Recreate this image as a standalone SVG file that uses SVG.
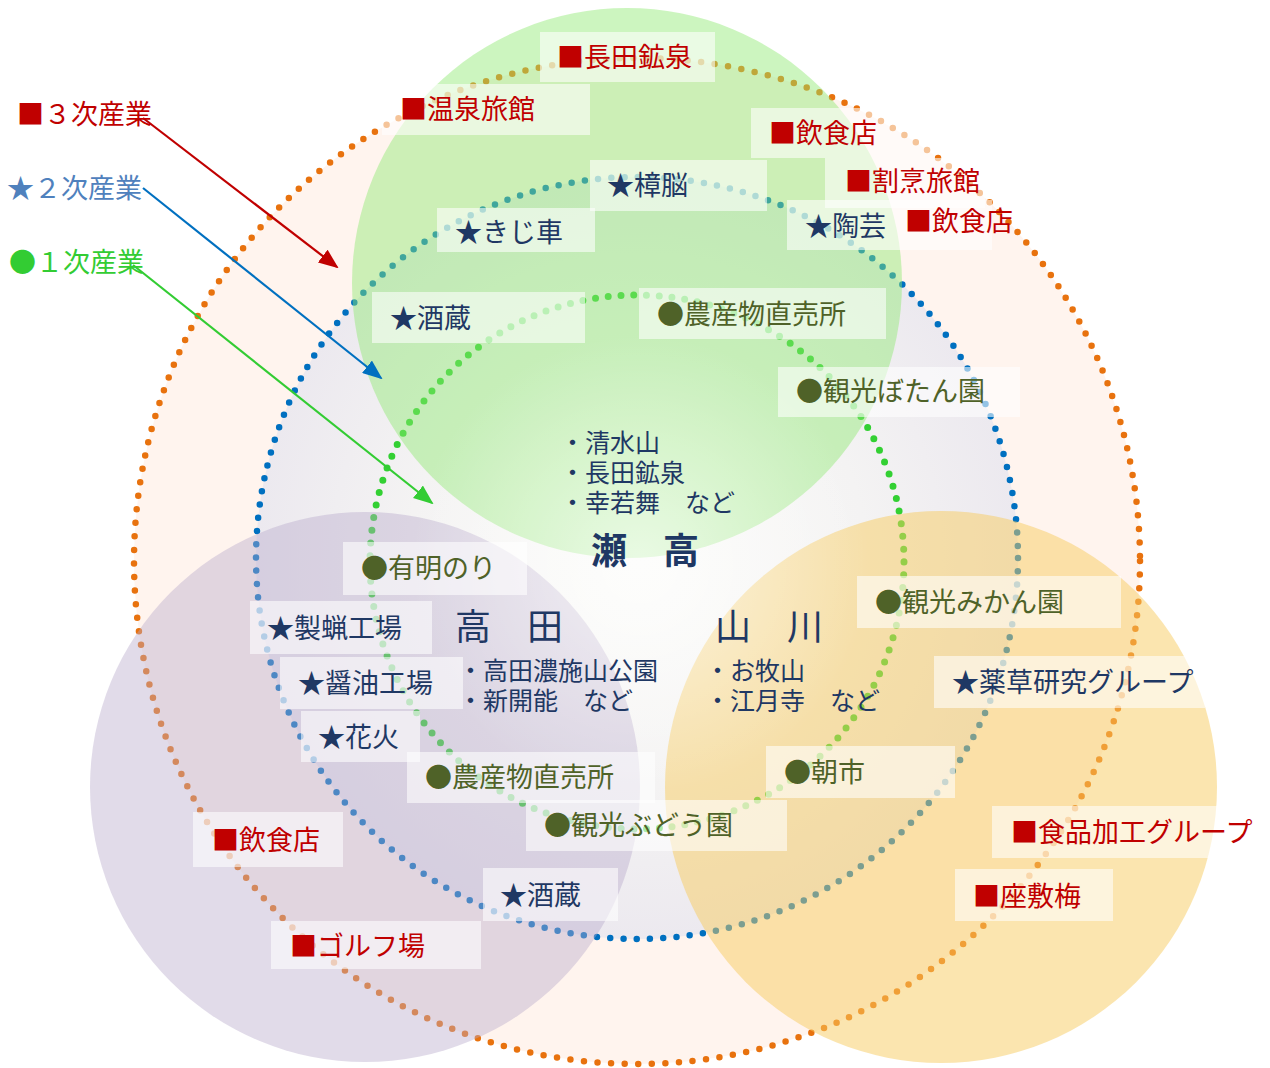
<svg xmlns="http://www.w3.org/2000/svg" width="1270" height="1068" viewBox="0 0 1270 1068">
<defs>
<style>
text{font-family:"Noto Sans CJK JP","Noto Sans",sans-serif;}
.lb{font-size:27px;}
.r{fill:#c00000;}
.n{fill:#1f3864;}
.o{fill:#4f6228;}
.box{fill:#ffffff;fill-opacity:0.58;}
.dot{fill:none;stroke-linecap:round;}
.area{font-size:36px;fill:#1f3864;}
.li{font-size:25px;fill:#1f3864;}
</style>
<radialGradient id="gBlue" cx="0.5" cy="0.5" r="0.5">
<stop offset="0" stop-color="#fbfbf8"/>
<stop offset="0.6" stop-color="#f4f3f3"/>
<stop offset="1" stop-color="#ece9ef"/>
</radialGradient>
<radialGradient id="gGlow" cx="0.5" cy="0.5" r="0.5">
<stop offset="0" stop-color="#ffffff" stop-opacity="0.6"/>
<stop offset="1" stop-color="#ffffff" stop-opacity="0"/>
</radialGradient>
<marker id="aR" markerUnits="userSpaceOnUse" markerWidth="20" markerHeight="16" refX="18" refY="8" orient="auto"><path d="M0,0 L20,8 L0,16 z" fill="#c00000"/></marker>
<marker id="aB" markerUnits="userSpaceOnUse" markerWidth="20" markerHeight="16" refX="18" refY="8" orient="auto"><path d="M0,0 L20,8 L0,16 z" fill="#0070c0"/></marker>
<marker id="aG" markerUnits="userSpaceOnUse" markerWidth="20" markerHeight="16" refX="18" refY="8" orient="auto"><path d="M0,0 L20,8 L0,16 z" fill="#33cc33"/></marker>
</defs>
<rect width="1270" height="1068" fill="#ffffff"/>
<g id="background">
<circle cx="637" cy="561" r="503" fill="#fff4ee"/>
<circle cx="637" cy="558" r="381" fill="url(#gBlue)"/>
</g>
<g id="rings">
<circle class="dot" cx="637" cy="561" r="503" stroke="#e8720e" stroke-width="6.5" stroke-dasharray="0 13.6"/>
<circle class="dot" cx="637" cy="558" r="381" stroke="#0070c0" stroke-width="6.5" stroke-dasharray="0 13.3"/>
<circle class="dot" cx="637" cy="562" r="267" stroke="#33d033" stroke-width="7" stroke-dasharray="0 12.8"/>
</g>
<g id="areas">
<circle id="setaka-area" cx="627" cy="283" r="275" fill="#8ee870" fill-opacity="0.45"/>
<circle id="takata-area" cx="365" cy="787" r="275" fill="#b8aacb" fill-opacity="0.42"/>
<circle id="yamakawa-area" cx="941" cy="787" r="276" fill="#f8cc60" fill-opacity="0.5"/>
<circle cx="640" cy="565" r="230" fill="url(#gGlow)"/>
</g>
<g id="connectors">
<line x1="143" y1="118" x2="337" y2="267" stroke="#c00000" stroke-width="2.2" marker-end="url(#aR)"/>
<line x1="143" y1="188" x2="381" y2="378" stroke="#0070c0" stroke-width="2.2" marker-end="url(#aB)"/>
<line x1="133" y1="265" x2="432" y2="503" stroke="#33cc33" stroke-width="2.2" marker-end="url(#aG)"/>
</g>
<g id="legend">
<text x="17" y="124" class="lb" fill="#c00000">■３次産業</text>
<text x="7" y="198" class="lb" fill="#4f81bd">★２次産業</text>
<text x="9" y="272" class="lb" fill="#33cc33">●１次産業</text>
</g>
<g id="n-nagata1"><rect class="box" x="540" y="32" width="175" height="50"/><text class="lb r" x="557" y="67">■長田鉱泉</text></g>
<g id="n-onsen"><rect class="box" x="382" y="84" width="208" height="51"/><text class="lb r" x="400" y="119">■温泉旅館</text></g>
<g id="n-inshoku1"><rect class="box" x="751" y="108" width="184" height="50"/><text class="lb r" x="769" y="143">■飲食店</text></g>
<g id="n-kappo"><rect class="box" x="825" y="158" width="160" height="50"/><text class="lb r" x="845" y="191">■割烹旅館</text></g>
<g id="n-inshoku2"><rect class="box" x="888" y="200" width="104" height="50"/><text class="lb r" x="905" y="231">■飲食店</text></g>
<g id="n-shono"><rect class="box" x="590" y="160" width="177" height="51"/><text class="lb n" x="607" y="195">★樟脳</text></g>
<g id="n-kiji"><rect class="box" x="437" y="208" width="158" height="44"/><text class="lb n" x="455" y="242">★きじ車</text></g>
<g id="n-tougei"><rect class="box" x="787" y="200" width="101" height="50"/><text class="lb n" x="805" y="236">★陶芸</text></g>
<g id="n-sakagura1"><rect class="box" x="372" y="292" width="213" height="51"/><text class="lb n" x="390" y="328">★酒蔵</text></g>
<g id="n-nosan1"><rect class="box" x="639" y="288" width="247" height="51"/><text class="lb o" x="657" y="324">●農産物直売所</text></g>
<g id="n-botan"><rect class="box" x="778" y="367" width="242" height="50"/><text class="lb o" x="796" y="401">●観光ぼたん園</text></g>
<g id="t-setaka">
<text class="li"><tspan x="560" y="452">・清水山</tspan><tspan x="560" y="482">・長田鉱泉</tspan><tspan x="560" y="512">・幸若舞　など</tspan></text>
<text class="area" x="591" y="564" font-weight="bold">瀬　高</text>
</g>
<g id="n-ariake"><rect class="box" x="343" y="542" width="184" height="53"/><text class="lb o" x="361" y="578">●有明のり</text></g>
<g id="n-seirou"><rect class="box" x="250" y="601" width="182" height="53"/><text class="lb n" x="267" y="638">★製蝋工場</text></g>
<g id="n-shoyu"><rect class="box" x="280" y="657" width="183" height="52"/><text class="lb n" x="298" y="693">★醤油工場</text></g>
<g id="n-hanabi"><rect class="box" x="301" y="711" width="119" height="51"/><text class="lb n" x="318" y="747">★花火</text></g>
<g id="t-takata">
<text class="area" x="455" y="640">高　田</text>
<text class="li"><tspan x="458" y="680">・高田濃施山公園</tspan><tspan x="458" y="710">・新開能　など</tspan></text>
</g>
<g id="n-nosan2"><rect class="box" x="407" y="752" width="248" height="51"/><text class="lb o" x="425" y="787">●農産物直売所</text></g>
<g id="n-budou"><rect class="box" x="526" y="800" width="261" height="51"/><text class="lb o" x="544" y="835">●観光ぶどう園</text></g>
<g id="n-inshoku3"><rect class="box" x="193" y="812" width="150" height="55"/><text class="lb r" x="212" y="850">■飲食店</text></g>
<g id="n-sakagura2"><rect class="box" x="483" y="868" width="135" height="53"/><text class="lb n" x="500" y="905">★酒蔵</text></g>
<g id="n-golf"><rect class="box" x="271" y="921" width="210" height="48"/><text class="lb r" x="290" y="956">■ゴルフ場</text></g>
<g id="t-yamakawa">
<text class="area" x="715" y="640">山　川</text>
<text class="li"><tspan x="705" y="680">・お牧山</tspan><tspan x="705" y="710">・江月寺　など</tspan></text>
</g>
<g id="n-mikan"><rect class="box" x="857" y="576" width="264" height="52"/><text class="lb o" x="875" y="612">●観光みかん園</text></g>
<g id="n-yakusou"><rect class="box" x="934" y="656" width="271" height="52"/><text class="lb n" x="952" y="692">★薬草研究グループ</text></g>
<g id="n-asaichi"><rect class="box" x="766" y="746" width="189" height="52"/><text class="lb o" x="784" y="782">●朝市</text></g>
<g id="n-shokuhin"><rect class="box" x="992" y="806" width="253" height="52"/><text class="lb r" x="1011" y="842">■食品加工グループ</text></g>
<g id="n-zashiki"><rect class="box" x="955" y="869" width="158" height="52"/><text class="lb r" x="973" y="906">■座敷梅</text></g>
</svg>
